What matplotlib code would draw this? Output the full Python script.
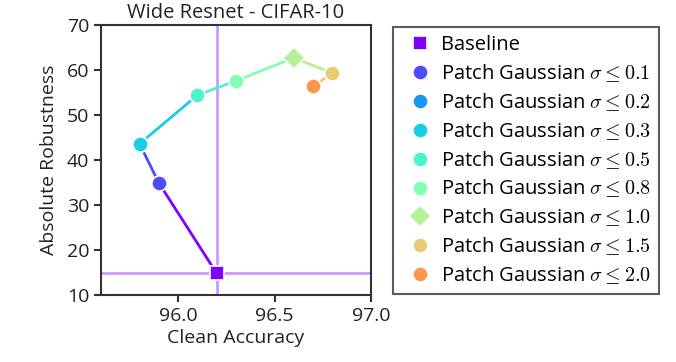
import matplotlib
matplotlib.use("Agg")
import matplotlib.pyplot as plt
import numpy as np

plt.rcParams['font.family'] = ['Open Sans', 'DejaVu Sans']
plt.rcParams['mathtext.fontset'] = 'cm'

labels = ["Baseline",
          r"Patch Gaussian $\sigma \leq 0.1$",
          r"Patch Gaussian $\sigma \leq 0.2$",
          r"Patch Gaussian $\sigma \leq 0.3$",
          r"Patch Gaussian $\sigma \leq 0.5$",
          r"Patch Gaussian $\sigma \leq 0.8$",
          r"Patch Gaussian $\sigma \leq 1.0$",
          r"Patch Gaussian $\sigma \leq 1.5$",
          r"Patch Gaussian $\sigma \leq 2.0$"]
clean_acc = [96.2, 95.9, 95.8, 95.8, 96.1, 96.3, 96.6, 96.8, 96.7]
robustness = [14.8, 34.9, 43.6, 43.6, 54.4, 57.6, 62.7, 59.3, 56.4]
markers = ["s", "o", "o", "o", "o", "o", "D", "o", "o"]

colors = [plt.cm.rainbow(i / 10) for i in range(len(labels))]

fig = plt.figure(figsize=(6.76, 3.62), dpi=100)
ax = fig.add_axes([101/676, 1 - 295/362, 270/676, 270/362])

ax.axvline(clean_acc[0], color=colors[0], alpha=0.4, lw=2, zorder=1)
ax.axhline(robustness[0], color=colors[0], alpha=0.4, lw=2, zorder=1)

for i in range(len(labels) - 1):
    ax.plot(clean_acc[i:i+2], robustness[i:i+2], color=colors[i], lw=2, zorder=2)

for i in range(len(labels)):
    ms = 11 if markers[i] == "D" else (10 if markers[i] == "s" else 11)
    ax.plot(clean_acc[i], robustness[i], linestyle="none", marker=markers[i],
            markersize=ms, color=colors[i], markeredgecolor="white",
            markeredgewidth=1.2, label=labels[i], zorder=3)

ax.set_xlim(95.6, 97.0)
ax.set_ylim(10, 70)
ax.set_xticks([96.0, 96.5, 97.0])
ax.set_xticklabels(["96.0", "96.5", "97.0"])
ax.set_yticks([10, 20, 30, 40, 50, 60, 70])
for s in ax.spines.values():
    s.set_color("#333333")
    s.set_linewidth(1.5)
ax.tick_params(colors="#333333", labelcolor="#222222", labelsize=14, width=1.5, length=5)
ax.set_xlabel("Clean Accuracy", fontsize=14, color="#222222", labelpad=3)
ax.set_ylabel("Absolute Robustness", fontsize=14, color="#222222", labelpad=6)
ax.set_title("Wide Resnet - CIFAR-10", fontsize=14.5, color="#222222", pad=5)

leg = ax.legend(loc="upper left", bbox_to_anchor=(292/270, 1 - 2/270), fontsize=14.5,
                frameon=True, fancybox=False, edgecolor="#333333",
                borderaxespad=0, handletextpad=0.1, handlelength=1.9,
                labelspacing=0.36, borderpad=0.4)
leg.get_frame().set_linewidth(1.5)

fig.savefig("out.png", dpi=100)
